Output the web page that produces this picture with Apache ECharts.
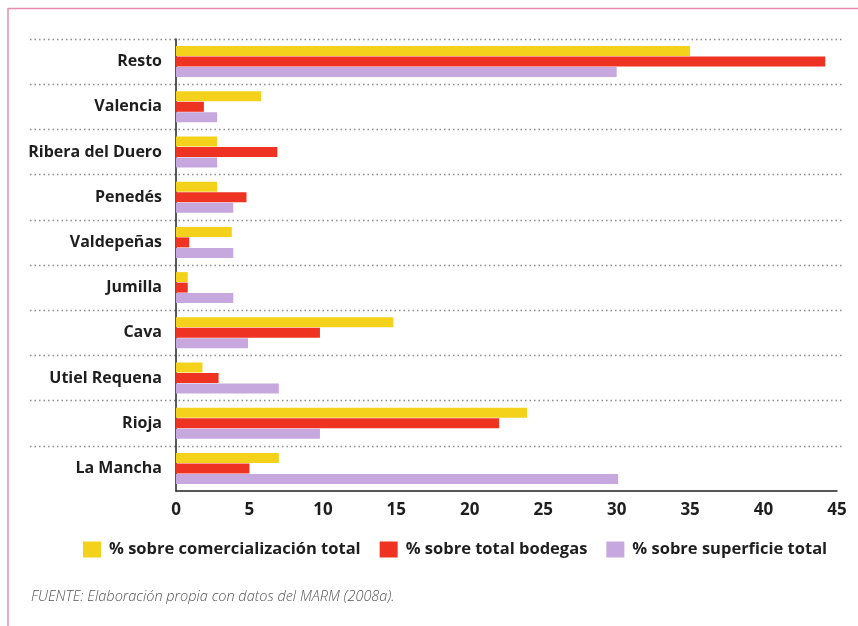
<!DOCTYPE html>
<html>
<head>
<meta charset="utf-8">
<script src="https://cdn.jsdelivr.net/npm/echarts@6/dist/echarts.min.js"></script>
<style>
  html, body { margin: 0; padding: 0; background: #fff; }
  #chart { width: 858px; height: 626px; }
</style>
</head>
<body>
<div id="chart"></div>
<script>
// Denominaciones de origen (de arriba abajo)
const categories = ['Resto', 'Valencia', 'Ribera del Duero', 'Penedés', 'Valdepeñas',
  'Jumilla', 'Cava', 'Utiel Requena', 'Rioja', 'La Mancha'];

const seriesNames = ['% sobre comercialización total', '% sobre total bodegas', '% sobre superficie total'];

const comercializacion = [35, 5.8, 2.8, 2.8, 3.8, 0.8, 14.8, 1.8, 23.9, 7];
const bodegas          = [44.2, 1.9, 6.9, 4.8, 0.9, 0.8, 9.8, 2.9, 22, 5];
const superficie       = [30, 2.8, 2.8, 3.9, 3.9, 3.9, 4.9, 7, 9.8, 30.1];

const xTicks = { min: 0, max: 45, interval: 5 };
const fuente = 'FUENTE: Elaboración propia con datos del MARM (2008a).';

const colors = ['#F4D21C', '#EE3322', '#C6A7DE'];
const font = "'Open Sans', 'DejaVu Sans', sans-serif";

const chart = echarts.init(document.getElementById('chart'), null, { renderer: 'canvas' });

const seriesData = [comercializacion, bodegas, superficie];

chart.setOption({
  backgroundColor: '#ffffff',
  animation: false,
  color: colors,
  grid: [
    // fondo: líneas punteadas que separan las categorías
    { left: 30, right: 15, top: 39, height: 406.8 },
    // gráfico de barras
    { left: 176, right: 21, top: 39, height: 452 }
  ],
  xAxis: [
    { gridIndex: 0, type: 'value', show: false, min: 0, max: 1 },
    {
      gridIndex: 1, type: 'value', min: xTicks.min, max: xTicks.max, interval: xTicks.interval,
      axisLine: { show: true, lineStyle: { color: '#222', width: 1.5 } },
      axisTick: { show: false },
      splitLine: { show: false },
      axisLabel: { color: '#1e1e1e', fontFamily: font, fontWeight: 'bold', fontSize: 17, margin: 11 }
    }
  ],
  yAxis: [
    {
      gridIndex: 0, type: 'value', min: 1, max: 10, interval: 1,
      axisLine: { show: false }, axisTick: { show: false }, axisLabel: { show: false },
      splitLine: { show: true, lineStyle: { color: '#8a8a8a', width: 1.3, type: [1.5, 3] } }
    },
    {
      gridIndex: 1, type: 'category', data: categories, inverse: true,
      axisLine: { show: true, lineStyle: { color: '#222', width: 1.5 } },
      axisTick: { show: false },
      splitLine: { show: false },
      axisLabel: { color: '#1e1e1e', fontFamily: font, fontWeight: 'bold', fontSize: 16, margin: 14 }
    }
  ],
  legend: {
    left: 78, top: 536,
    itemWidth: 18, itemHeight: 16, itemGap: 19,
    icon: 'rect',
    textStyle: { color: '#1e1e1e', fontFamily: font, fontWeight: 'bold', fontSize: 16.5, padding: [0, 0, 0, 3] },
    data: seriesNames
  },
  series: seriesNames.map((name, i) => ({
    name,
    type: 'bar',
    xAxisIndex: 1,
    yAxisIndex: 1,
    data: seriesData[i],
    barWidth: 10,
    barGap: '5%',
    itemStyle: { color: colors[i] }
  })),
  graphic: [
    {
      type: 'line', silent: true,
      shape: { x1: 8, y1: 8.5, x2: 858, y2: 8.5 },
      style: { stroke: '#E98AB0', lineWidth: 1.5 }
    },
    {
      type: 'line', silent: true,
      shape: { x1: 8, y1: 8, x2: 8, y2: 626 },
      style: { stroke: '#E98AB0', lineWidth: 1.5 }
    },
    {
      type: 'text', left: 31, top: 589,
      style: {
        text: fuente, fill: '#555', fontFamily: font, fontStyle: 'italic',
        fontWeight: 300, fontSize: 14.5
      }
    }
  ]
});
</script>
</body>
</html>
